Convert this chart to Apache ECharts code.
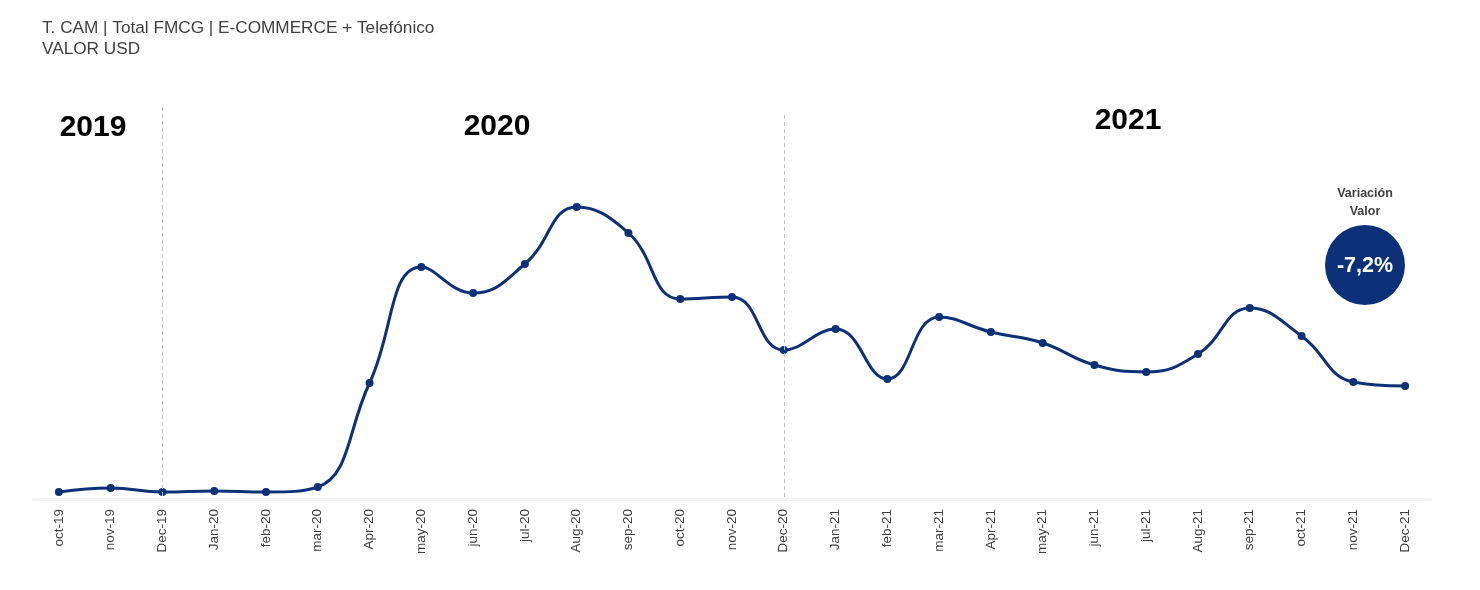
<!DOCTYPE html>
<html>
<head>
<meta charset="utf-8">
<script src="https://cdn.jsdelivr.net/npm/echarts@6/dist/echarts.min.js"></script>
<style>
html,body{margin:0;padding:0;background:#fff;}
#chart{width:1480px;height:590px;}
</style>
</head>
<body>
<div id="chart"></div>
<script>
const categories = ['oct-19','nov-19','Dec-19','Jan-20','feb-20','mar-20','Apr-20','may-20','jun-20','jul-20','Aug-20','sep-20','oct-20','nov-20','Dec-20','Jan-21','feb-21','mar-21','Apr-21','may-21','jun-21','jul-21','Aug-21','sep-21','oct-21','nov-21','Dec-21'];
const valorUSD = [7,11,7,8,7,12,116,232,206,235,292,266,200,202,149,170,120,182,167,156,134,127,145,191,163,117,113];
const yearDividers = ['Dec-19','Dec-20'];
const dividerTops = [392,384];
const yearLabels = ['2019','2020','2021'];
const titleLines = ['T. CAM | Total FMCG | E-COMMERCE + Telefónico','VALOR USD'];
const variationTitle = 'Variación\nValor';
const variationValue = '-7,2%';

const chart = echarts.init(document.getElementById('chart'), null, {renderer:'canvas'});
const navy = '#0d3179';
chart.setOption({
  animation:false,
  backgroundColor:'#fff',
  title:{
    text: titleLines.join('\n'),
    left:37, top:13,
    textStyle:{fontFamily:'Liberation Sans, Arial', fontSize:17.2, fontWeight:'normal', color:'#404040', lineHeight:21}
  },
  grid:{left:33, right:49, top:107, bottom:91, containLabel:false},
  xAxis:{
    type:'category', data:categories, boundaryGap:true,
    axisLine:{show:true, lineStyle:{color:'#f2f2f2', width:3}},
    axisTick:{show:false},
    axisLabel:{rotate:90, margin:10, fontFamily:'Liberation Sans, Arial', fontSize:13.5, color:'#404040', interval:0},
    splitLine:{show:false}
  },
  yAxis:{type:'value', min:0, max:392, show:false, splitLine:{show:false}},
  series:[{
    type:'line', data:valorUSD, smooth:0.45,
    symbol:'circle', symbolSize:8,
    lineStyle:{color:navy, width:3},
    itemStyle:{color:navy},
    markLine:{
      silent:true, symbol:['none','none'], label:{show:false},
      lineStyle:{color:'#c0c0c0', type:[4,3], width:1},
      data: yearDividers.map((c,i)=>[{coord:[c,dividerTops[i]]},{coord:[c,0]}])
    },
    z:3
  }],
  graphic:[
    {type:'text', x:93, y:128, style:{text:yearLabels[0], font:'bold 30px Liberation Sans, Arial', fill:'#000', align:'center', verticalAlign:'middle'}},
    {type:'text', x:497, y:127, style:{text:yearLabels[1], font:'bold 30px Liberation Sans, Arial', fill:'#000', align:'center', verticalAlign:'middle'}},
    {type:'text', x:1128, y:121, style:{text:yearLabels[2], font:'bold 30px Liberation Sans, Arial', fill:'#000', align:'center', verticalAlign:'middle'}},
    {type:'text', x:1365, y:185, style:{text:variationTitle, font:'bold 12.5px Liberation Sans, Arial', fill:'#404040', align:'center', lineHeight:18}},
    {type:'circle', shape:{cx:1365, cy:265, r:40}, style:{fill:navy}},
    {type:'text', x:1365, y:266, style:{text:variationValue, font:'bold 21.5px Liberation Sans, Arial', fill:'#fff', align:'center', verticalAlign:'middle'}}
  ]
});
</script>
</body>
</html>
